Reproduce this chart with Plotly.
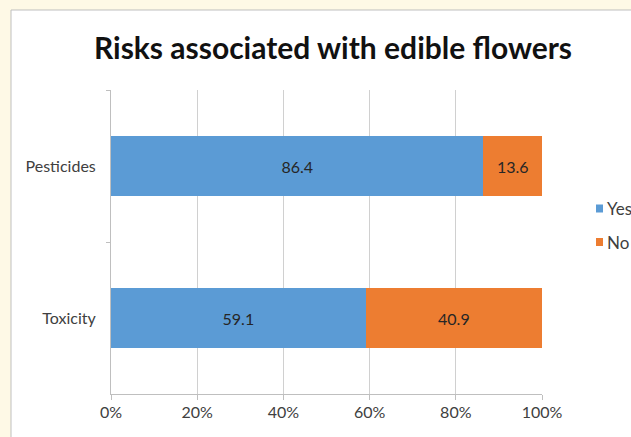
import plotly.graph_objects as go

# Survey responses (percent) on risks of edible flowers
categories = ["Pesticides", "Toxicity"]
yes_values = [86.4, 59.1]
no_values = [13.6, 40.9]
tick_values = [0, 20, 40, 60, 80, 100]
tick_labels = ["0%", "20%", "40%", "60%", "80%", "100%"]
series_names = ["Yes", "No"]

BLUE = "#5B9BD5"
ORANGE = "#ED7D31"
FONT = "Lato, 'Open Sans', sans-serif"

fig = go.Figure()
for name, vals, col in [(series_names[0], yes_values, BLUE), (series_names[1], no_values, ORANGE)]:
    fig.add_trace(go.Bar(
        y=categories, x=vals, name=name, orientation="h",
        marker=dict(color=col, line=dict(width=0)),
        texttemplate="%{x:.1f}", textposition="inside", insidetextanchor="middle",
        textfont=dict(family=FONT, size=16, color="#262626"),
        showlegend=False,
    ))

# plot area: x 111..542, y 90..394 in pixels
L, R, T, B = 111, 542, 90, 394
W, H = 631, 437
pw, ph = R - L, B - T

def px_x(p):
    return (p - L) / pw

def px_y(p):
    return (B - p) / ph

shapes = [
    # white chart panel with grey frame
    dict(type="rect", xref="paper", yref="paper", layer="below",
         x0=px_x(11), x1=px_x(W + 10), y0=px_y(H + 10), y1=px_y(10),
         fillcolor="white", line=dict(color="#BFBFBF", width=1)),
]

# legend squares + labels
legend_items = [(series_names[0], BLUE, 208.5), (series_names[1], ORANGE, 242)]
annotations = []
for name, col, cy in legend_items:
    shapes.append(dict(type="rect", xref="paper", yref="paper",
                       x0=px_x(596), x1=px_x(603), y0=px_y(cy + 4), y1=px_y(cy - 4),
                       fillcolor=col, line=dict(width=0)))
    annotations.append(dict(xref="paper", yref="paper", x=px_x(605), y=px_y(cy),
                            xanchor="left", yanchor="middle", showarrow=False,
                            text=name, font=dict(family=FONT, size=17, color="#404040")))

fig.update_layout(
    barmode="stack",
    bargap=0.6,
    width=W, height=H,
    margin=dict(l=L, r=W - R, t=T, b=H - B, pad=0),
    paper_bgcolor="#FEF9E6",
    plot_bgcolor="white",
    title=dict(text="<b>Risks associated with edible flowers</b>",
               x=333 / W, xanchor="center", y=1 - 48 / H, yanchor="middle",
               font=dict(family=FONT, size=30, color="#111111")),
    xaxis=dict(range=[0, 100], tickvals=tick_values, ticktext=tick_labels,
               showgrid=True, gridcolor="#D0D0D0", gridwidth=1,
               showline=True, linecolor="#BFBFBF", linewidth=1,
               ticks="outside", ticklen=5, tickcolor="#BFBFBF",
               ticklabelstandoff=-1,
               zeroline=False, fixedrange=True,
               tickfont=dict(family=FONT, size=16, color="#404040")),
    yaxis=dict(autorange="reversed", tickson="boundaries",
               showgrid=False, showline=True, linecolor="#BFBFBF", linewidth=1,
               ticks="outside", ticklen=4, tickcolor="#BFBFBF",
               ticklabelstandoff=11,
               tickfont=dict(family=FONT, size=16, color="#404040")),
    shapes=shapes,
    annotations=annotations,
)

fig.write_html("out.html")
